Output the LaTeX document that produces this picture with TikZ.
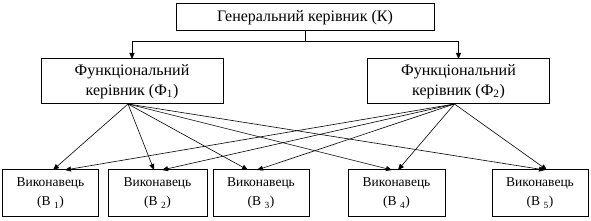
\documentclass[tikz,border=0pt]{standalone}
\usepackage{fontspec}
\setmainfont{Liberation Serif}
\usetikzlibrary{arrows.meta}

\begin{document}
\begin{tikzpicture}[x=1pt,y=-1pt,font=\fontsize{16}{20}\selectfont,
box/.style={draw,line width=1pt,inner sep=0pt,outer sep=0pt,align=center},
func/.style={box,minimum width=182pt,minimum height=45pt},
exec/.style={box,minimum width=96pt,minimum height=47pt,font=\fontsize{13.5}{19}\selectfont},
arr/.style={-{Triangle[length=6pt,width=5pt]},line width=0.6pt}]
\useasboundingbox (0,0) rectangle (591,221);
\node[box,minimum width=258pt,minimum height=27pt] (gen) at (305,17.5) {Генеральний керівник (К)};
\node[func] (f1) at (132,81.5) {Функціональний\\керівник (Ф\textsubscript{1})};
\node[func] (f2) at (458.5,81.5) {Функціональний\\керівник (Ф\textsubscript{2})};
\node[exec] (b1) at (50.5,193.5) {Виконавець\\(В~\textsubscript{1})};
\node[exec,minimum width=99pt] (b2) at (157.5,193.5) {Виконавець\\(В~\textsubscript{2})};
\node[exec] (b3) at (261,193.5) {Виконавець\\(В~\textsubscript{3})};
\node[exec,minimum width=97pt] (b4) at (396.5,193.5) {Виконавець\\(В~\textsubscript{4})};
\node[exec] (b5) at (540,193.5) {Виконавець\\(В~\textsubscript{5})};
% connection to the functional managers
\coordinate (bus) at (0,42);
\draw[line width=1pt] (gen.south) -- (gen.south |- bus);
\draw[arr,line width=1pt] (gen.south |- bus) -| (f1);
\draw[arr,line width=1pt] (gen.south |- bus) -| (f2);
% each functional manager to every executor
\coordinate (s1) at ([xshift=-4pt]f1.south);
\coordinate (s2) at ([xshift=-4pt]f2.south);
\foreach \i/\a/\b in {1/2.5/14.5,2/-3.5/4.5,3/-13/-4,4/-4.5/1.5,5/5/7}{
  \draw[arr] (s1) -- ([xshift=\a pt]b\i.north);
  \draw[arr] (s2) -- ([xshift=\b pt]b\i.north);
}
\end{tikzpicture}
\end{document}
